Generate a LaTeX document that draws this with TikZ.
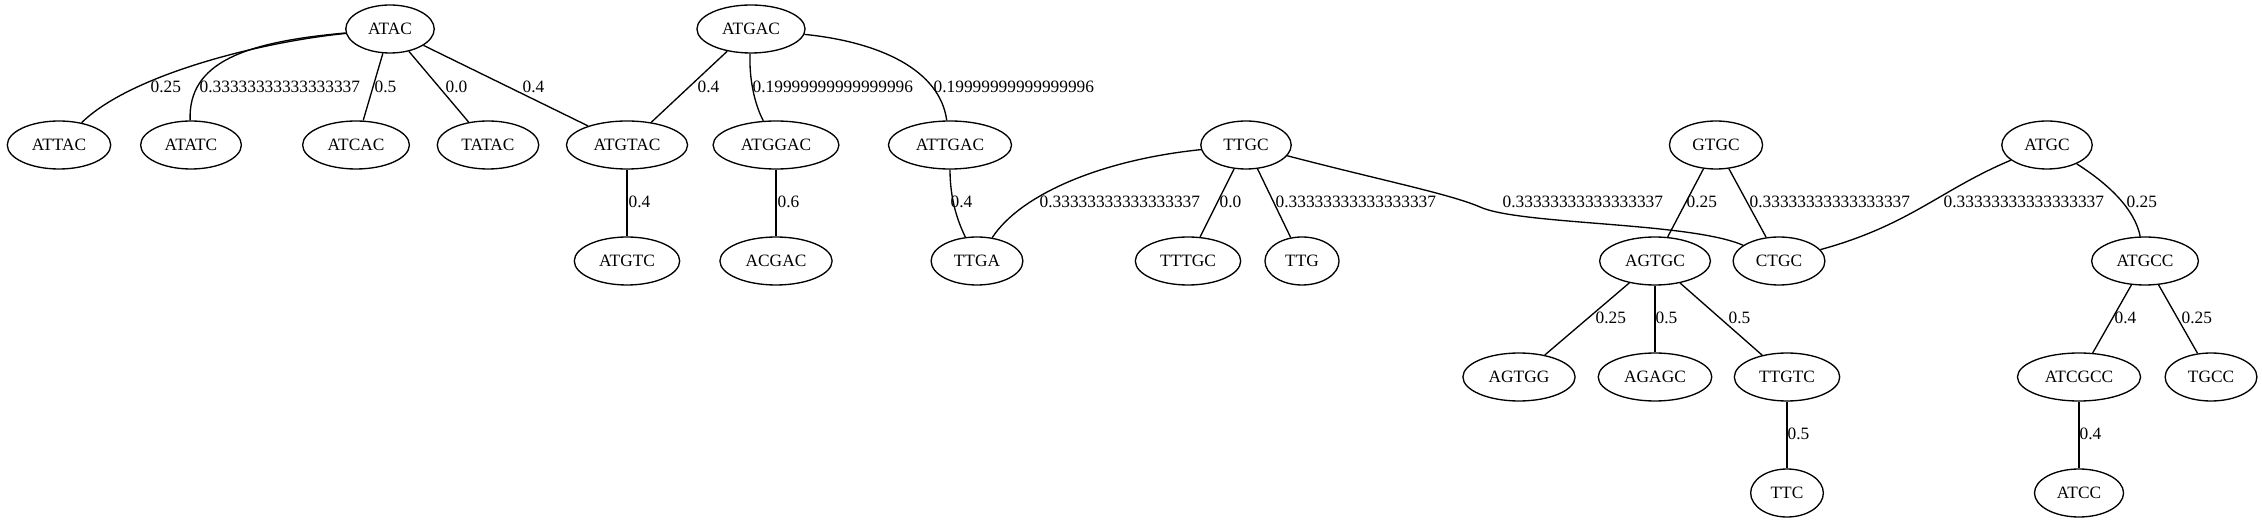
\documentclass[tikz,border=0pt]{standalone}
\usepackage{fontspec}
\setmainfont{Liberation Serif}
\usetikzlibrary{shapes}

\tikzset{
  seq/.style={ellipse, draw, minimum width=54pt, minimum height=36pt,
    inner xsep=7pt, inner ysep=0pt, font=\fontsize{13pt}{15pt}\selectfont},
  wt/.style={anchor=west, inner sep=0pt, font=\fontsize{13pt}{15pt}\selectfont}
}

\begin{document}
\begin{tikzpicture}[x=0.75pt, y=-0.75pt, line width=1pt]
        \useasboundingbox (0,0) rectangle (2262,523);

        % Rank 1
        \node[seq] (ATAC) at (390,29) {ATAC};
        \node[seq] (ATGAC) at (751,29) {ATGAC};

        % Rank 2
        \node[seq] (ATTAC) at (59,145) {ATTAC};
        \node[seq] (ATATC) at (191,145) {ATATC};
        \node[seq] (ATCAC) at (356,145) {ATCAC};
        \node[seq] (TATAC) at (488,145) {TATAC};
        \node[seq] (ATGTAC) at (627,145) {ATGTAC};
        \node[seq] (ATGGAC) at (776,145) {ATGGAC};
        \node[seq] (ATTGAC) at (950,145) {ATTGAC};
        \node[seq] (TTGC) at (1246,145) {TTGC};
        \node[seq] (GTGC) at (1716,145) {GTGC};
        \node[seq] (ATGC) at (2047,145) {ATGC};

        % Rank 3
        \node[seq] (ATGTC) at (627,261) {ATGTC};
        \node[seq] (ACGAC) at (776,261) {ACGAC};
        \node[seq] (TTGA) at (977,261) {TTGA};
        \node[seq] (TTTGC) at (1188,261) {TTTGC};
        \node[seq] (TTG) at (1302,261) {TTG};
        \node[seq] (AGTGC) at (1655,261) {AGTGC};
        \node[seq] (CTGC) at (1779,261) {CTGC};
        \node[seq] (ATGCC) at (2145,261) {ATGCC};

        % Rank 4
        \node[seq] (AGTGG) at (1519,377) {AGTGG};
        \node[seq] (AGAGC) at (1655,377) {AGAGC};
        \node[seq] (TTGTC) at (1787,377) {TTGTC};
        \node[seq] (ATCGCC) at (2079,377) {ATCGCC};
        \node[seq] (TGCC) at (2211,377) {TGCC};

        % Rank 5
        \node[seq] (TTC) at (1787,493) {TTC};
        \node[seq] (ATCC) at (2079,493) {ATCC};

        % Edges from ATAC
        \draw (ATAC) .. controls (260,42) and (130,75) .. (ATTAC);
        \draw (ATAC) .. controls (245,42) and (188,62) .. (ATATC);
        \draw (ATAC) -- (ATCAC);
        \draw (ATAC) -- (TATAC);
        \draw (ATAC) -- (ATGTAC);
        \node[wt] (wATTAC) at (150,87) {0.25};
        \node[wt] (wATATC) at (199,87) {0.33333333333333337};
        \node[wt] (wATCAC) at (374,87) {0.5};
        \node[wt] (wTATAC) at (445,87) {0.0};
        \node[wt] (wATGTAC) at (522,87) {0.4};

        % Edges from ATGAC
        \draw (ATGAC) -- (ATGTAC);
        \draw (ATGAC) .. controls (749,80) and (755,105) .. (ATGGAC);
        \draw (ATGAC) .. controls (880,42) and (940,70) .. (ATTGAC);
        \node[wt] (wATGTAC2) at (697,87) {0.4};
        \node[wt] (wATGGAC) at (752,87) {0.19999999999999996};
        \node[wt] (wATTGAC) at (933,87) {0.19999999999999996};

        % Rank 2 to rank 3
        \draw (ATGTAC) -- (ATGTC);
        \draw (ATGGAC) -- (ACGAC);
        \draw (ATTGAC) .. controls (950,200) and (958,222) .. (TTGA);
        \node[wt] (wATGTC) at (628,202) {0.4};
        \node[wt] (wACGAC) at (777,202) {0.6};
        \node[wt] (wTTGA) at (950,202) {0.4};

        % Edges from TTGC
        \draw (TTGC) .. controls (1100,160) and (1020,195) .. (TTGA);
        \draw (TTGC) -- (TTTGC);
        \draw (TTGC) -- (TTG);
        \draw (TTGC) .. controls (1380,180) and (1450,194) .. (1480,207)
              .. controls (1520,225) and (1690,222) .. (CTGC);
        \node[wt] (wTTGA2) at (1039,202) {0.33333333333333337};
        \node[wt] (wTTTGC) at (1219,202) {0.0};
        \node[wt] (wTTG) at (1275,202) {0.33333333333333337};
        \node[wt] (wCTGC) at (1502,202) {0.33333333333333337};

        % Edges from GTGC and ATGC
        \draw (GTGC) -- (AGTGC);
        \draw (GTGC) -- (CTGC);
        \draw (ATGC) .. controls (1940,190) and (1910,225) .. (CTGC);
        \draw (ATGC) .. controls (2110,185) and (2135,210) .. (ATGCC);
        \node[wt] (wAGTGC) at (1686,202) {0.25};
        \node[wt] (wCTGC2) at (1749,202) {0.33333333333333337};
        \node[wt] (wCTGC3) at (1943,202) {0.33333333333333337};
        \node[wt] (wATGCC) at (2126,202) {0.25};

        % Rank 3 to rank 5
        \draw (AGTGC) -- (AGTGG);
        \draw (AGTGC) -- (AGAGC);
        \draw (AGTGC) -- (TTGTC);
        \draw (ATGCC) -- (ATCGCC);
        \draw (ATGCC) -- (TGCC);
        \draw (TTGTC) -- (TTC);
        \draw (ATCGCC) -- (ATCC);
        \node[wt] (wAGTGG) at (1595,318) {0.25};
        \node[wt] (wAGAGC) at (1655,318) {0.5};
        \node[wt] (wTTGTC) at (1728,318) {0.5};
        \node[wt] (wATCGCC) at (2114,318) {0.4};
        \node[wt] (wTGCC) at (2181,318) {0.25};
        \node[wt] (wTTC) at (1787,434) {0.5};
        \node[wt] (wATCC) at (2079,434) {0.4};
\end{tikzpicture}
\end{document}
